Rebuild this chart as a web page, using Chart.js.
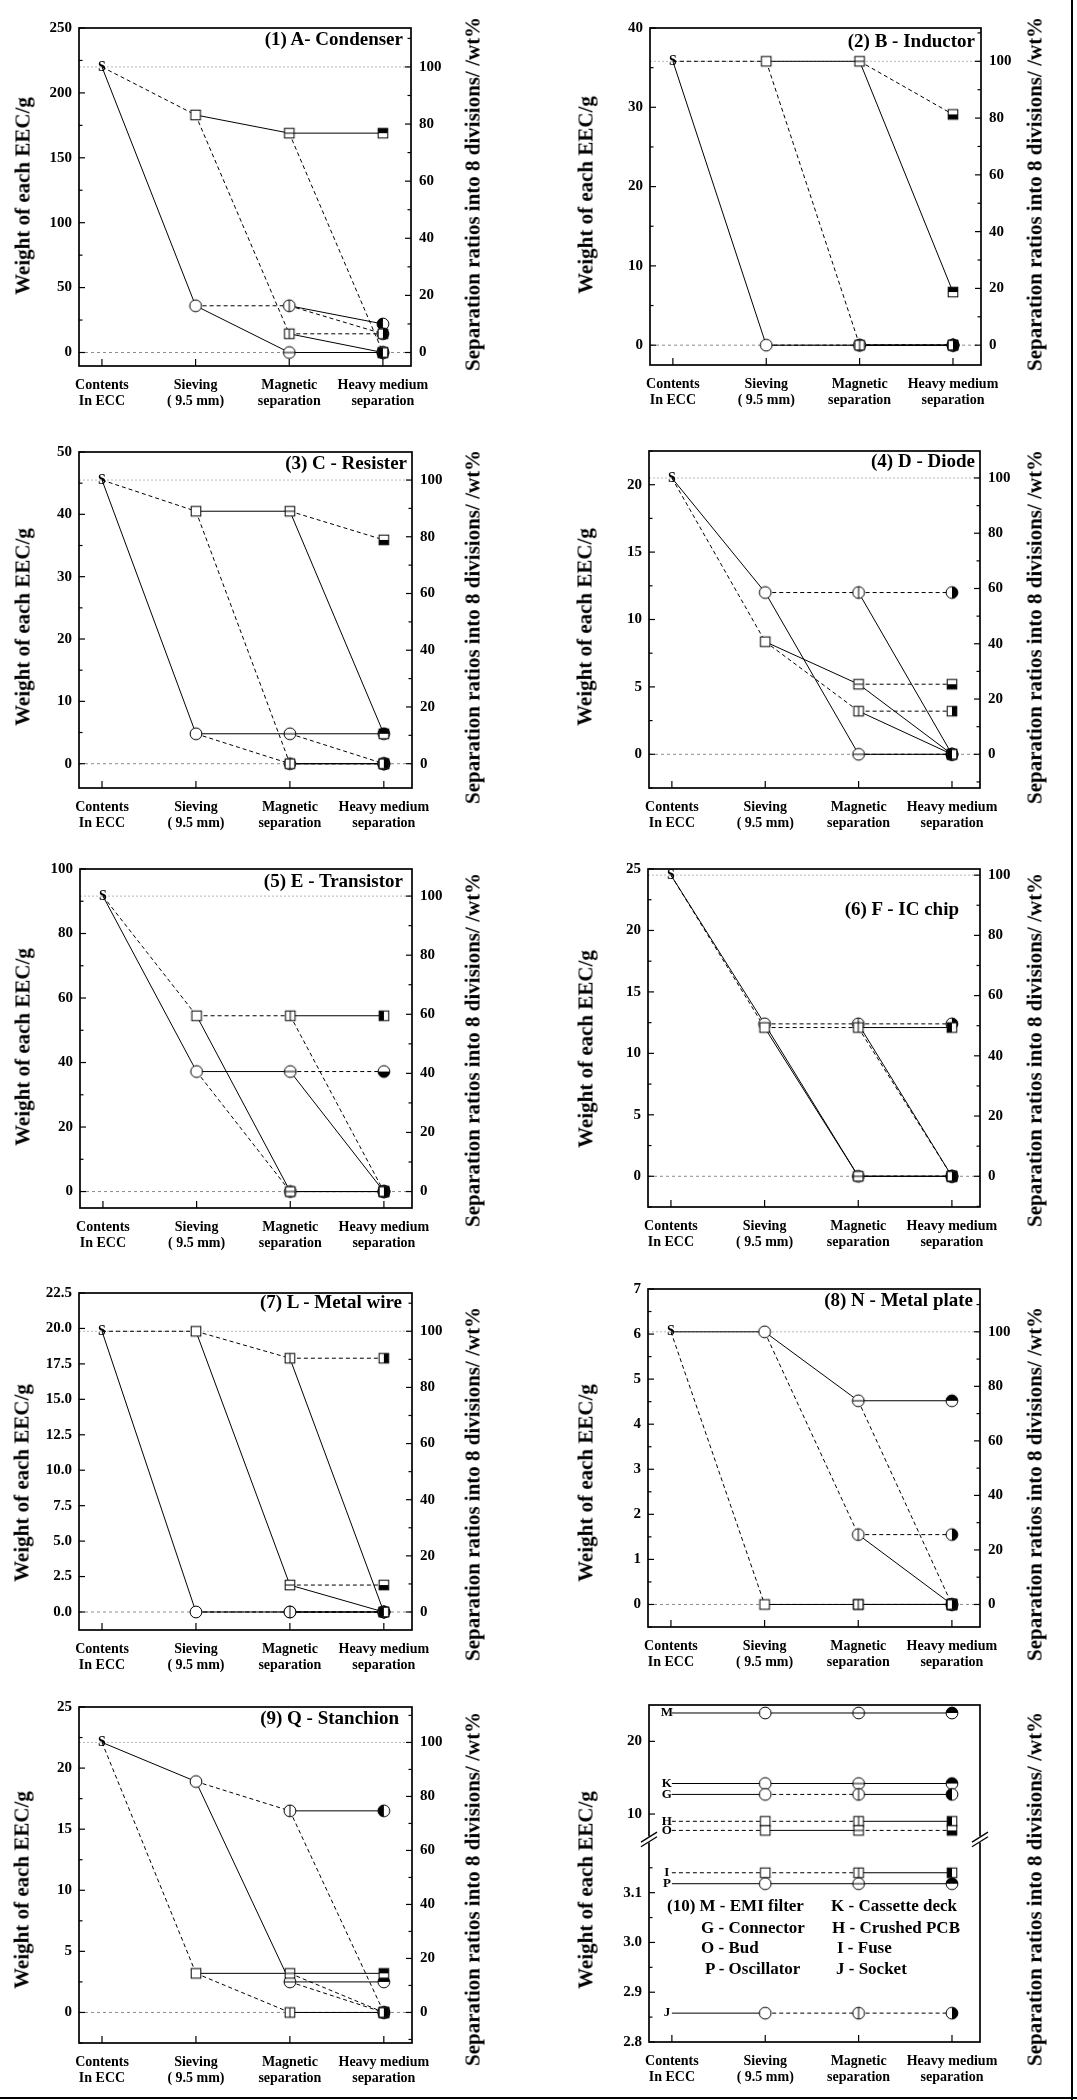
<!DOCTYPE html>
<html>
<head>
<meta charset="utf-8">
<title>EEC separation</title>
<script src="https://cdn.jsdelivr.net/npm/chart.js@4.4.1/dist/chart.umd.min.js"></script>
<style>
html,body{margin:0;padding:0;background:#fff;}
#wrap{position:relative;width:1077px;height:2100px;overflow:hidden;background:#fff;
 font-family:"Liberation Serif","Times New Roman",serif;font-weight:bold;color:#000;}
#wrap canvas{position:absolute;}
.t{position:absolute;white-space:nowrap;line-height:1;}
</style>
</head>
<body>
<div id="wrap"></div>
<script>
// ---------------- DATA ----------------
const STAGE_LABELS = [['Contents','In ECC'],['Sieving','( 9.5 mm)'],['Magnetic','separation'],['Heavy medium','separation']];
const Y_TITLE = 'Weight of each EEC/g';
const Y2_TITLE = 'Separation ratios into 8 divisions/ /wt%';
const PCT_TICKS = [0,20,40,60,80,100];

// tree order: sieve [circle(solid), square(dashed)], mag [c-solid,c-dashed,s-solid,s-dashed], heavy 8 leaves
const P1_NAME = '(1) A- Condenser';
const P1_START = 220;
const P1_SIEVE = [36, 183];
const P1_MAG = [0, 36, 169, 14.4];
const P1_HEAVY = [0, 0, 22, 14.4, 169, 0, 0, 14.4];
const P1_YRANGE = [-10.4, 250];
const P1_YTICKS = [0, 50, 100, 150, 200, 250];

const P2_NAME = '(2) B - Inductor';
const P2_START = 35.8;
const P2_SIEVE = [0, 35.8];
const P2_MAG = [0, 0, 35.8, 0];
const P2_HEAVY = [0, 0, 0, 0, 6.7, 29.1, 0, 0];
const P2_YRANGE = [-2.5, 40];
const P2_YTICKS = [0, 10, 20, 30, 40];

const P3_NAME = '(3) C - Resister';
const P3_START = 45.5;
const P3_SIEVE = [4.8, 40.5];
const P3_MAG = [4.8, 0, 40.5, 0];
const P3_HEAVY = [4.8, 0, 0, 0, 4.8, 35.9, 0, 0];
const P3_YRANGE = [-3.9, 50];
const P3_YTICKS = [0, 10, 20, 30, 40, 50];

const P4_NAME = '(4) D - Diode';
const P4_START = 20.5;
const P4_SIEVE = [12, 8.35];
const P4_MAG = [0, 12, 5.2, 3.2];
const P4_HEAVY = [0, 0, 0, 12, 0, 5.2, 0, 3.2];
const P4_YRANGE = [-2.5, 22.5];
const P4_YTICKS = [0, 5, 10, 15, 20];

const P5_NAME = '(5) E - Transistor';
const P5_START = 91.6;
const P5_SIEVE = [37.2, 54.5];
const P5_MAG = [37.2, 0, 0, 54.5];
const P5_HEAVY = [0, 37.2, 0, 0, 0, 0, 54.5, 0];
const P5_YRANGE = [-5.1, 100];
const P5_YTICKS = [0, 20, 40, 60, 80, 100];

const P6_NAME = '(6) F - IC chip';
const P6_START = 24.5;
const P6_SIEVE = [12.4, 12.1];
const P6_MAG = [0, 12.4, 0, 12.1];
const P6_HEAVY = [0, 0, 0, 12.4, 0, 0, 12.1, 0];
const P6_YRANGE = [-2.5, 25];
const P6_YTICKS = [0, 5, 10, 15, 20, 25];

const P7_NAME = '(7) L - Metal wire';
const P7_START = 19.8;
const P7_SIEVE = [0, 19.8];
const P7_MAG = [0, 0, 1.9, 17.9];
const P7_HEAVY = [0, 0, 0, 0, 0, 1.9, 0, 17.9];
const P7_YRANGE = [-1.27, 22.5];
const P7_YTICKS = [0, 2.5, 5, 7.5, 10, 12.5, 15, 17.5, 20, 22.5];

const P8_NAME = '(8) N - Metal plate';
const P8_START = 6.05;
const P8_SIEVE = [6.05, 0];
const P8_MAG = [4.52, 1.55, 0, 0];
const P8_HEAVY = [4.52, 0, 0, 1.55, 0, 0, 0, 0];
const P8_YRANGE = [-0.5, 7];
const P8_YTICKS = [0, 1, 2, 3, 4, 5, 6, 7];

const P9_NAME = '(9) Q - Stanchion';
const P9_START = 22.1;
const P9_SIEVE = [18.9, 3.2];
const P9_MAG = [2.5, 16.5, 3.2, 0];
const P9_HEAVY = [2.5, 0, 16.5, 0, 3.2, 0, 0, 0];
const P9_YRANGE = [-2.5, 25];
const P9_YTICKS = [0, 5, 10, 15, 20, 25];

// panel 10: one route per material, s = solid fraction, d = dashed fraction at each stage
const P10_CODES = ['M','K','G','H','O','I','P','J'];
const P10_WEIGHTS = [23.9, 14.2, 12.7, 9.0, 7.75, 3.14, 3.118, 2.858];
const P10_ROUTES = ['sss','sss','sds','dds','dsd','dds','sss','sdd'];
const P10_SPLIT = 5;
const P10_UPPER = [6.51, 25];
const P10_UPPER_TICKS = [10, 20];
const P10_LOWER = [2.8, 3.207];
const P10_LOWER_TICKS = [2.8, 2.9, 3.0, 3.1];
const P10_LEGEND = [['(10) M - EMI filter','K -  Cassette deck'],['G - Connector','H - Crushed PCB'],['O - Bud','I - Fuse'],['P - Oscillator','J - Socket']];

// ---------------- LAYOUT ----------------
const X_RANGE = [-0.245, 3.30];
const LAYOUT = [
 {L:79, R:411, T:23,   B:366,  lab:[403,38],   lt:[23,196],  rt:[473,194]},
 {L:650,R:981, T:23,   B:365,  lab:[975,40],   lt:[586,195], rt:[1035,194]},
 {L:79, R:412, T:447,  B:788,  lab:[407,462],  lt:[23,627],  rt:[473,627]},
 {L:649,R:980, T:446,  B:788,  lab:[975,460],  lt:[585,627], rt:[1035,627]},
 {L:80, R:412, T:864,  B:1208, lab:[403,880],  lt:[23,1047], rt:[473,1050]},
 {L:648,R:980, T:864,  B:1207, lab:[959,908],  lt:[586,1049],rt:[1035,1050]},
 {L:79, R:412, T:1288, B:1630, lab:[402,1301], lt:[22,1483], rt:[473,1484]},
 {L:648,R:980, T:1284, B:1627, lab:[973,1299], lt:[586,1483],rt:[1035,1484]},
 {L:79, R:412, T:1702, B:2043, lab:[399,1717], lt:[22,1890], rt:[473,1889]},
 {L:649,R:980, T:1701, B:2042, lab:null,       lt:[586,1890],rt:[1035,1889]}
];
const LEGEND_POS = [[[667,1905],[831,1905]],[[701,1927],[832,1927]],[[701,1947],[837,1947]],[[705,1968],[836,1968]]];

const PANELS = [
 {name:P1_NAME,start:P1_START,sieve:P1_SIEVE,mag:P1_MAG,heavy:P1_HEAVY,yr:P1_YRANGE,yt:P1_YTICKS,dec:0,minor:true},
 {name:P2_NAME,start:P2_START,sieve:P2_SIEVE,mag:P2_MAG,heavy:P2_HEAVY,yr:P2_YRANGE,yt:P2_YTICKS,dec:0,minor:true},
 {name:P3_NAME,start:P3_START,sieve:P3_SIEVE,mag:P3_MAG,heavy:P3_HEAVY,yr:P3_YRANGE,yt:P3_YTICKS,dec:0,minor:true},
 {name:P4_NAME,start:P4_START,sieve:P4_SIEVE,mag:P4_MAG,heavy:P4_HEAVY,yr:P4_YRANGE,yt:P4_YTICKS,dec:0,minor:true},
 {name:P5_NAME,start:P5_START,sieve:P5_SIEVE,mag:P5_MAG,heavy:P5_HEAVY,yr:P5_YRANGE,yt:P5_YTICKS,dec:0,minor:true},
 {name:P6_NAME,start:P6_START,sieve:P6_SIEVE,mag:P6_MAG,heavy:P6_HEAVY,yr:P6_YRANGE,yt:P6_YTICKS,dec:0,minor:true},
 {name:P7_NAME,start:P7_START,sieve:P7_SIEVE,mag:P7_MAG,heavy:P7_HEAVY,yr:P7_YRANGE,yt:P7_YTICKS,dec:1,minor:false},
 {name:P8_NAME,start:P8_START,sieve:P8_SIEVE,mag:P8_MAG,heavy:P8_HEAVY,yr:P8_YRANGE,yt:P8_YTICKS,dec:0,minor:true},
 {name:P9_NAME,start:P9_START,sieve:P9_SIEVE,mag:P9_MAG,heavy:P9_HEAVY,yr:P9_YRANGE,yt:P9_YTICKS,dec:0,minor:true}
];

// ---------------- RENDER ----------------
const wrap = document.getElementById('wrap');
const FONT = '"Liberation Serif","Times New Roman",serif';
Chart.defaults.font.family = FONT;
Chart.defaults.font.weight = 'bold';
Chart.defaults.color = '#000';
const DASH = [4,3];

function addText(txt, css){
  const d=document.createElement('div'); d.className='t'; d.textContent=txt;
  Object.assign(d.style, css); wrap.appendChild(d); return d;
}

const MK = {};
function marker(shape, deco){
  const key = shape + '_' + deco;
  if (MK[key]) return MK[key];
  const c=document.createElement('canvas'); c.width=16; c.height=16;
  const g=c.getContext('2d'); const cx=8, cy=8;
  g.lineWidth=1; g.strokeStyle='#000';
  if (shape==='c'){
    const r=5.9;
    g.fillStyle='#fff'; g.beginPath(); g.arc(cx,cy,r,0,Math.PI*2); g.fill();
    const half={top:[Math.PI,2*Math.PI],bottom:[0,Math.PI],left:[Math.PI/2,1.5*Math.PI],right:[-Math.PI/2,Math.PI/2]}[deco];
    if (half){ g.fillStyle='#000'; g.beginPath(); g.arc(cx,cy,r,half[0],half[1]); g.closePath(); g.fill(); }
    if (deco==='h'){ g.beginPath(); g.moveTo(cx-r,cy); g.lineTo(cx+r,cy); g.stroke(); }
    if (deco==='v'){ g.beginPath(); g.moveTo(cx,cy-r); g.lineTo(cx,cy+r); g.stroke(); }
    g.beginPath(); g.arc(cx,cy,r,0,Math.PI*2); g.stroke();
  } else {
    const s=4.8;
    g.fillStyle='#fff'; g.fillRect(cx-s,cy-s,2*s,2*s);
    g.fillStyle='#000';
    if (deco==='top') g.fillRect(cx-s,cy-s,2*s,s);
    if (deco==='bottom') g.fillRect(cx-s,cy,2*s,s);
    if (deco==='left') g.fillRect(cx-s,cy-s,s,2*s);
    if (deco==='right') g.fillRect(cx,cy-s,s,2*s);
    if (deco==='h'){ g.beginPath(); g.moveTo(cx-s,cy); g.lineTo(cx+s,cy); g.stroke(); }
    if (deco==='v'){ g.beginPath(); g.moveTo(cx,cy-s); g.lineTo(cx,cy+s); g.stroke(); }
    g.strokeRect(cx-s,cy-s,2*s,2*s);
  }
  MK[key]=c; return c;
}

function treeMarker(k,j){
  if (k===1) return marker(j===0?'c':'s','');
  if (k===2) return marker(j<2?'c':'s', j%2===0?'h':'v');
  const parentH = ((j>>1)%2)===0;
  return marker(j<4?'c':'s', parentH ? (j%2===0?'top':'bottom') : (j%2===0?'left':'right'));
}

function edge(x0,y0,x1,y1,dashed,ax){
  return {type:'line', data:[{x:x0,y:y0},{x:x1,y:y1}], xAxisID:'x', yAxisID:ax,
    borderColor:'#000', borderWidth:1, borderDash: dashed?DASH:[], pointRadius:0, pointHitRadius:0,
    fill:false, tension:0, order:1};
}
function markerSet(pts, sty, ax){
  return {type:'line', data:pts, xAxisID:'x', yAxisID:ax, showLine:false,
    pointRadius:6, pointHitRadius:0, pointStyle:(c)=>sty[c.dataIndex], borderColor:'#000', backgroundColor:'#fff', order:0};
}

function fmtTick(v, dec){ return dec ? v.toFixed(dec) : String(Math.round(v)); }
function withMinor(major, range, useMinor){
  const vals = major.filter(v=>v>=range[0]-1e-9 && v<=range[1]+1e-9);
  if (useMinor && major.length>1){
    const st = major[1]-major[0];
    for (let v=major[0]-st/2; v<=range[1]+1e-9; v+=st){
      if (v>=range[0]-1e-9) vals.push(+v.toFixed(6));
    }
  }
  return vals.sort((a,b)=>a-b);
}

function yScale(pos, range, major, dec, useMinor, extra){
  const all = withMinor(major, range, useMinor);
  return Object.assign({
    type:'linear', position:pos, min:range[0], max:range[1], bounds:'data',
    grid:{display:false, drawTicks:false}, border:{display:false},
    ticks:{autoSkip:false, padding: pos==='left'?7:8, color:'#000',
      font:{size:15, weight:'bold', family:FONT},
      callback:(v)=> major.some(m=>Math.abs(m-v)<1e-9) ? fmtTick(v,dec) : ''},
    afterBuildTicks:(s)=>{ s.ticks = all.map(v=>({value:v})); },
    afterFit:(s)=>{ s.width = pos==='left'?70:60; }
  }, extra||{});
}
function xScale(){
  return {type:'linear', position:'bottom', min:X_RANGE[0], max:X_RANGE[1], bounds:'data',
    grid:{display:false, drawTicks:false}, border:{display:false},
    ticks:{autoSkip:false, maxRotation:0, minRotation:0, padding:10.6, color:'#000',
      font:{size:14, weight:'bold', family:FONT, lineHeight:1.2},
      callback:(v)=> STAGE_LABELS[v] || ''},
    afterBuildTicks:(s)=>{ s.ticks = STAGE_LABELS.map((_,i)=>({value:i})); },
    afterFit:(s)=>{ s.height = 50; }
  };
}

function tickMarks(ctx, scale, x, dir){
  scale.ticks.forEach(t=>{
    const y = scale.getPixelForValue(t.value);
    const major = t.label !== '' && t.label !== undefined && t.label !== null;
    const len = major ? 6 : 3.5;
    ctx.beginPath(); ctx.moveTo(x,y); ctx.lineTo(x+dir*len,y); ctx.stroke();
  });
}

function decoPlugin(d){
  return {
    id:'deco',
    beforeDatasetsDraw(chart){
      const ctx=chart.ctx, a=chart.chartArea;
      ctx.save();
      (d.refs||[]).forEach(r=>{
        const y=chart.scales[r.axis].getPixelForValue(r.v);
        ctx.strokeStyle=r.c; ctx.lineWidth=1; ctx.setLineDash(r.dash);
        ctx.beginPath(); ctx.moveTo(a.left,y); ctx.lineTo(a.right,y); ctx.stroke();
      });
      ctx.restore();
    },
    afterDatasetsDraw(chart){
      const ctx=chart.ctx, a=chart.chartArea, xs=chart.scales.x;
      ctx.save();
      ctx.fillStyle='#000'; ctx.textAlign='center'; ctx.textBaseline='middle';
      (d.letters||[]).forEach(l=>{
        ctx.font='bold '+l.size+'px '+FONT;
        ctx.fillText(l.t, xs.getPixelForValue(l.x)+l.dx, chart.scales[l.axis].getPixelForValue(l.y));
      });
      ctx.strokeStyle='#000'; ctx.setLineDash([]); ctx.lineWidth=1.2;
      (d.left||[]).forEach(id=>tickMarks(ctx, chart.scales[id], a.left, 1));
      (d.right||[]).forEach(id=>tickMarks(ctx, chart.scales[id], a.right, -1));
      xs.ticks.forEach(t=>{
        const x=xs.getPixelForValue(t.value);
        ctx.beginPath(); ctx.moveTo(x,a.bottom); ctx.lineTo(x,a.bottom-7); ctx.stroke();
      });
      ctx.lineWidth=1.7; ctx.strokeRect(a.left,a.top,a.right-a.left,a.bottom-a.top);
      if (d.breakAt){
        const y=chart.scales[d.breakAt].top;
        [a.left,a.right].forEach(x=>{
          ctx.fillStyle='#fff'; ctx.fillRect(x-3,y-3,6,6);
          ctx.lineWidth=1.3;
          [-2.3,2.3].forEach(o=>{ ctx.beginPath(); ctx.moveTo(x-8,y+5+o); ctx.lineTo(x+8,y-5+o); ctx.stroke(); });
        });
      }
      ctx.restore();
    }
  };
}

function makeChart(lay, datasets, scales, deco, noRight){
  const padL=70, padR=60, padT=12, padB=50;
  const W=lay.R-lay.L+padL+padR, H=lay.B-lay.T+padT+padB;
  const cv=document.createElement('canvas');
  cv.width=W; cv.height=H;
  cv.style.left=(lay.L-padL)+'px'; cv.style.top=(lay.T-padT)+'px';
  cv.style.width=W+'px'; cv.style.height=H+'px';
  wrap.appendChild(cv);
  return new Chart(cv.getContext('2d'), {
    type:'line',
    data:{datasets},
    options:{responsive:false, animation:false, devicePixelRatio:1, events:[],
      layout:{padding:{top:padT,left:0,right:noRight?padR:0,bottom:0}},
      plugins:{legend:{display:false}, tooltip:{enabled:false}},
      scales},
    plugins:[decoPlugin(deco)]
  });
}

function titles(lay){
  addText(Y_TITLE, {left:lay.lt[0]+'px', top:lay.lt[1]+'px', fontSize:'21px', transform:'translate(-50%,-50%) rotate(-90deg)'});
  addText(Y2_TITLE, {left:lay.rt[0]+'px', top:lay.rt[1]+'px', fontSize:'21px', transform:'translate(-50%,-50%) rotate(-90deg)'});
}

function buildTreePanel(p, lay){
  const levels = [[p.start], p.sieve, p.mag, p.heavy];
  const ds = [];
  for (let k=1;k<=3;k++){
    levels[k].forEach((v,j)=>{ ds.push(edge(k-1, levels[k-1][j>>1], k, v, j%2===1, 'y')); });
  }
  const pts=[], sty=[];
  for (let k=1;k<=3;k++) levels[k].forEach((v,j)=>{ pts.push({x:k,y:v}); sty.push(treeMarker(k,j)); });
  ds.push(markerSet(pts, sty, 'y'));
  const pr=[p.yr[0]*100/p.start, p.yr[1]*100/p.start];
  const scales={ x:xScale(), y:yScale('left', p.yr, p.yt, p.dec, p.minor), y2:yScale('right', pr, PCT_TICKS, 0, true) };
  makeChart(lay, ds, scales, {
    refs:[{axis:'y',v:0,c:'#8c8c8c',dash:[3,3]},{axis:'y',v:p.start,c:'#b8b8b8',dash:[2,2]}],
    letters:[{t:'S',x:0,y:p.start,axis:'y',dx:0,size:14}],
    left:['y'], right:['y2']
  });
  titles(lay);
  addText(p.name, {right:(1077-lay.lab[0])+'px', top:lay.lab[1]+'px', fontSize:'19px', transform:'translateY(-50%)'});
}

function buildP10(lay){
  const ds=[]; const up={pts:[],sty:[]}, lo={pts:[],sty:[]}; const letters=[];
  P10_WEIGHTS.forEach((w,i)=>{
    const ax = w > P10_SPLIT ? 'yHigh' : 'yLow';
    const r = P10_ROUTES[i];
    for (let k=1;k<=3;k++) ds.push(edge(k-1,w,k,w,r[k-1]==='d',ax));
    const g = ax==='yHigh'?up:lo;
    const sh = r[0]==='s'?'c':'s';
    const d2 = r[1]==='s'?'h':'v';
    const d3 = d2==='h' ? (r[2]==='s'?'top':'bottom') : (r[2]==='s'?'left':'right');
    [[1,''],[2,d2],[3,d3]].forEach(([k,dc])=>{ g.pts.push({x:k,y:w}); g.sty.push(marker(sh,dc)); });
    letters.push({t:P10_CODES[i], x:0, y:w, axis:ax, dx:-5, size:13});
  });
  ds.push(markerSet(up.pts, up.sty, 'yHigh'));
  ds.push(markerSet(lo.pts, lo.sty, 'yLow'));
  const scales={ x:xScale(),
    yHigh: yScale('left', P10_UPPER, P10_UPPER_TICKS, 0, false, {stack:'w', stackWeight:136, weight:2}),
    yLow: yScale('left', P10_LOWER, P10_LOWER_TICKS, 1, true, {stack:'w', stackWeight:205, weight:1}) };
  makeChart(lay, ds, scales, {letters, left:['yHigh','yLow'], breakAt:'yLow'}, true);
  titles(lay);
  P10_LEGEND.forEach((row,ri)=>row.forEach((txt,ci)=>{
    const pos=LEGEND_POS[ri][ci];
    addText(txt, {left:pos[0]+'px', top:pos[1]+'px', fontSize:'17px', transform:'translateY(-50%)'});
  }));
}

PANELS.forEach((p,i)=>buildTreePanel(p, LAYOUT[i]));
buildP10(LAYOUT[9]);

// outer frame lines of the figure
const vline=document.createElement('div');
Object.assign(vline.style,{position:'absolute',left:'1071px',top:'0px',width:'2px',height:'2100px',background:'#000'});
wrap.appendChild(vline);
const hline=document.createElement('div');
Object.assign(hline.style,{position:'absolute',left:'0px',top:'2097px',width:'1077px',height:'2px',background:'#000'});
wrap.appendChild(hline);
</script>
</body>
</html>
